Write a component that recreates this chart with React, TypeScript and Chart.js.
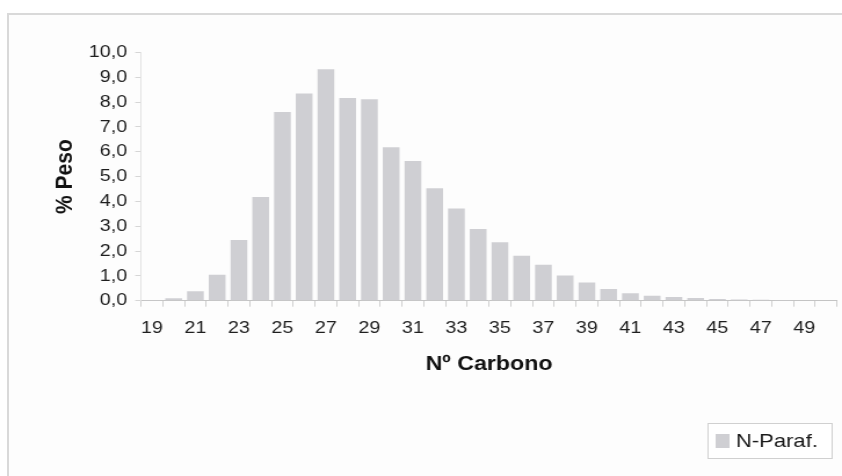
import { useEffect, useRef } from "react";
import { Chart, registerables } from "chart.js";

Chart.register(...registerables);

// ---- data ----
const carbonNumbers = [
  "19", "20", "21", "22", "23", "24", "25", "26", "27", "28", "29", "30", "31", "32", "33", "34",
  "35", "36", "37", "38", "39", "40", "41", "42", "43", "44", "45", "46", "47", "48", "49", "50",
];
const nParafWeight = [
  0.03, 0.1, 0.38, 1.05, 2.45, 4.18, 7.6, 8.35, 9.33, 8.17, 8.12, 6.18, 5.63, 4.53, 3.71, 2.89,
  2.35, 1.81, 1.45, 1.02, 0.73, 0.47, 0.3, 0.2, 0.15, 0.11, 0.07, 0.05, 0.04, 0.03, 0.02, 0.0,
];
const xTickLabels = ["19", "21", "23", "25", "27", "29", "31", "33", "35", "37", "39", "41", "43", "45", "47", "49"];
const yTickLabels = ["0,0", "1,0", "2,0", "3,0", "4,0", "5,0", "6,0", "7,0", "8,0", "9,0", "10,0"];
const seriesLabel = "N-Paraf.";
const xTitle = "Nº Carbono";
const yTitle = "% Peso";

const BAR_COLOR = "#cfcfd3";
const FONT = "'Liberation Sans', Arial, sans-serif";

const boxLegend = {
  id: "boxLegend",
  afterDraw(chart: any) {
    const ctx = chart.ctx as CanvasRenderingContext2D;
    const ds = chart.data.datasets[0];
    ctx.save();
    ctx.fillStyle = "#ffffff";
    ctx.fillRect(610.5, 423.5, 107, 35);
    ctx.strokeStyle = "#d0d0d0";
    ctx.lineWidth = 1;
    ctx.strokeRect(610.5, 423.5, 107, 35);
    ctx.fillStyle = ds.backgroundColor;
    ctx.fillRect(617, 434, 12, 14);
    ctx.fillStyle = "#1a1a1a";
    ctx.font = `19px ${FONT}`;
    ctx.textBaseline = "middle";
    ctx.textAlign = "left";
    ctx.fillText(ds.label, 634.5, 441.5);
    ctx.restore();
  },
};

export default function App() {
  const ref = useRef<HTMLCanvasElement>(null);

  useEffect(() => {
    if (!ref.current) return;
    const chart = new Chart(ref.current, {
      type: "bar",
      data: {
        labels: carbonNumbers,
        datasets: [
          {
            label: seriesLabel,
            data: nParafWeight,
            backgroundColor: BAR_COLOR,
            borderWidth: 0,
            categoryPercentage: 1,
            barPercentage: 0.77,
          },
        ],
      },
      options: {
        responsive: false,
        animation: false,
        devicePixelRatio: 1,
        layout: { padding: { left: 43.4, top: 52.5, right: 4.3, bottom: 100 } },
        plugins: {
          legend: { display: false },
          tooltip: { enabled: false },
        },
        scales: {
          x: {
            type: "category",
            offset: true,
            grid: {
              display: true,
              offset: true,
              drawOnChartArea: false,
              drawTicks: true,
              tickLength: 6,
              color: "#cfcfcf",
            },
            border: { display: true, color: "#c4c4c4", width: 1 },
            ticks: {
              autoSkip: false,
              maxRotation: 0,
              padding: 11,
              color: "#1e1e1e",
              font: { family: FONT, size: 17 },
              callback: (_v: any, i: number) => {
                const c = carbonNumbers[i];
                return xTickLabels.includes(c) ? c : "";
              },
            },
            title: {
              display: true,
              text: xTitle,
              color: "#111111",
              padding: 0,
              font: { family: FONT, size: 20, weight: "bold" },
            },
            afterFit: (scale: any) => {
              scale.height = 75.3;
            },
          },
          y: {
            min: 0,
            max: 10,
            grid: {
              display: true,
              drawOnChartArea: false,
              drawTicks: true,
              tickLength: 5,
              color: "#d6d6d6",
            },
            border: { display: true, color: "#e2e2e2", width: 1 },
            ticks: {
              stepSize: 1,
              padding: 7,
              color: "#1e1e1e",
              font: { family: FONT, size: 17 },
              callback: (v: any) => yTickLabels[Math.round(Number(v))],
            },
            title: {
              display: true,
              text: yTitle,
              color: "#111111",
              padding: 0,
              font: { family: FONT, size: 21, weight: "bold" },
            },
            afterFit: (scale: any) => {
              scale.width = 78.2;
            },
          },
        },
      },
      plugins: [boxLegend],
    } as any);
    return () => chart.destroy();
  }, []);

  return (
    <div
      style={{
        position: "absolute",
        left: 0,
        top: 0,
        width: 842,
        height: 476,
        overflow: "hidden",
        background: "#ffffff",
      }}
    >
      <style>
        {
          "canvas.stretched{position:absolute !important;left:0 !important;top:0 !important;width:842px !important;height:476px !important;}"
        }
      </style>
      <div
        style={{
          position: "absolute",
          left: 7,
          top: 13,
          width: 900,
          height: 600,
          borderTop: "2px solid #d9d9d9",
          borderLeft: "2px solid #d9d9d9",
          background: "#fdfdfd",
        }}
      />
      <canvas ref={ref} className="stretched" width={726} height={476} />
    </div>
  );
}
